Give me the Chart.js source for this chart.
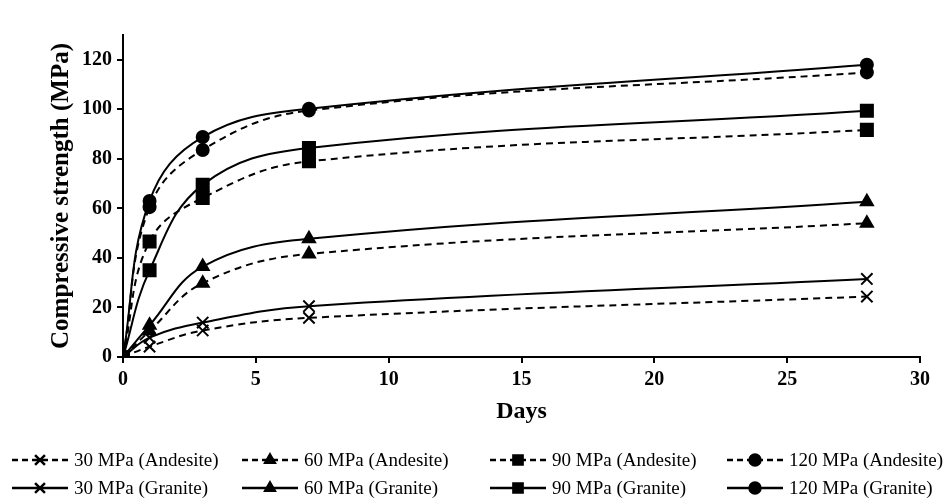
<!DOCTYPE html>
<html>
<head>
<meta charset="utf-8">
<script src="https://cdn.jsdelivr.net/npm/chart.js@4/dist/chart.umd.min.js"></script>
<style>
  body { margin: 0; background: #fff; }
  #wrap { width: 951px; height: 504px; }
</style>
</head>
<body>
<div id="wrap"><canvas id="strengthChart"></canvas></div>
<script>
  // data
  const days = [0, 1, 3, 7, 28];
  const andesite30 = [0, 4.2, 10.7, 15.8, 24.4];
  const andesite60 = [0, 10.5, 29.8, 41.6, 54];
  const andesite90 = [0, 46.6, 64.2, 79, 91.7];
  const andesite120 = [0, 60.5, 83.6, 99.5, 114.9];
  const granite30 = [0, 7.8, 13.9, 20.5, 31.5];
  const granite60 = [0, 12.8, 36.5, 47.7, 62.7];
  const granite90 = [0, 35, 69.5, 84.4, 99.4];
  const granite120 = [0, 63, 88.8, 100.2, 118];

  const seriesLabels = [
    '30 MPa (Andesite)', '60 MPa (Andesite)', '90 MPa (Andesite)', '120 MPa (Andesite)',
    '30 MPa (Granite)', '60 MPa (Granite)', '90 MPa (Granite)', '120 MPa (Granite)'
  ];
  const seriesValues = [andesite30, andesite60, andesite90, andesite120,
    granite30, granite60, granite90, granite120];
  const markers = ['crossRot', 'triangle', 'rect', 'circle'];
  const markerSize = { crossRot: 8, triangle: 7, rect: 8.5, circle: 6 };
  const legendMarkerSize = { crossRot: 7, triangle: 5.5, rect: 6.5, circle: 5.5 };

  const xTicks = [0, 5, 10, 15, 20, 25, 30];
  const yTicks = [0, 20, 40, 60, 80, 100, 120];

  const serif = "'Liberation Serif', 'Times New Roman', serif";

  function makeDataset(label, values, i) {
    const style = markers[i % 4];
    const dashed = i < 4;
    return {
      label: label,
      data: days.map(function (d, k) { return { x: d, y: values[k] }; }),
      borderColor: '#000',
      backgroundColor: '#000',
      borderWidth: 2,
      borderDash: dashed ? [7, 5] : [],
      pointStyle: style,
      pointRadius: markerSize[style],
      pointBorderWidth: 2,
      pointBackgroundColor: '#000',
      pointBorderColor: '#000',
      tension: 0.4,
      fill: false
    };
  }

  // legend laid out as a 4 x 2 grid under the axis
  const gridLegend = {
    id: 'gridLegend',
    afterDraw: function (chart) {
      const ctx = chart.ctx;
      const cols = [12, 242, 490, 727];
      const rows = [460, 488];
      ctx.save();
      chart.data.datasets.forEach(function (ds, i) {
        const x = cols[i % 4];
        const y = rows[Math.floor(i / 4)];
        ctx.strokeStyle = '#000';
        ctx.fillStyle = '#000';
        ctx.lineWidth = 2.5;
        ctx.setLineDash(ds.borderDash.length ? [6, 4] : []);
        ctx.beginPath();
        ctx.moveTo(x, y);
        ctx.lineTo(x + 56, y);
        ctx.stroke();
        ctx.setLineDash([]);
        const opts = { pointStyle: ds.pointStyle, radius: legendMarkerSize[ds.pointStyle], borderWidth: 2.5, rotation: 0 };
        if (Chart.helpers && Chart.helpers.drawPoint) {
          Chart.helpers.drawPoint(ctx, opts, x + 28, y);
        } else {
          ctx.beginPath();
          ctx.arc(x + 28, y, 5, 0, Math.PI * 2);
          ctx.fill();
        }
        ctx.font = '19px ' + serif;
        ctx.textBaseline = 'middle';
        ctx.textAlign = 'left';
        ctx.fillText(ds.label, x + 62, y + 1);
      });
      ctx.restore();
    }
  };

  const ctx = document.getElementById('strengthChart').getContext('2d');
  new Chart(ctx, {
    type: 'line',
    data: {
      datasets: seriesLabels.map(function (l, i) { return makeDataset(l, seriesValues[i], i); })
    },
    options: {
      responsive: true,
      maintainAspectRatio: false,
      animation: false,
      layout: { padding: { left: 0, right: 31, top: 35, bottom: 77 } },
      plugins: {
        legend: { display: false },
        tooltip: { enabled: false }
      },
      scales: {
        x: {
          type: 'linear',
          min: 0,
          max: 30,
          afterFit: function (scale) { scale.height = 70; },
          afterBuildTicks: function (scale) {
            scale.ticks = xTicks.map(function (v) { return { value: v }; });
          },
          border: { display: true, color: '#000', width: 2 },
          grid: { drawOnChartArea: false, drawTicks: true, tickLength: 6, color: '#000', lineWidth: 2 },
          ticks: { color: '#000', padding: 5, maxRotation: 0, font: { family: serif, size: 20, weight: 'bold' } },
          title: { display: true, text: 'Days', color: '#000', padding: { top: 0, bottom: 1 }, font: { family: serif, size: 24, weight: 'bold' } }
        },
        y: {
          type: 'linear',
          min: 0,
          max: 130,
          afterFit: function (scale) { scale.width = 123; },
          afterBuildTicks: function (scale) {
            scale.ticks = yTicks.map(function (v) { return { value: v }; });
          },
          border: { display: true, color: '#000', width: 2 },
          grid: { drawOnChartArea: false, drawTicks: true, tickLength: 6, color: '#000', lineWidth: 2 },
          ticks: { color: '#000', padding: 5, font: { family: serif, size: 20, weight: 'bold' } },
          title: { display: true, text: 'Compressive strength (MPa)', color: '#000', padding: { top: 47, bottom: 0 }, font: { family: serif, size: 25, weight: 'bold' } }
        }
      }
    },
    plugins: [gridLegend]
  });
</script>
</body>
</html>
